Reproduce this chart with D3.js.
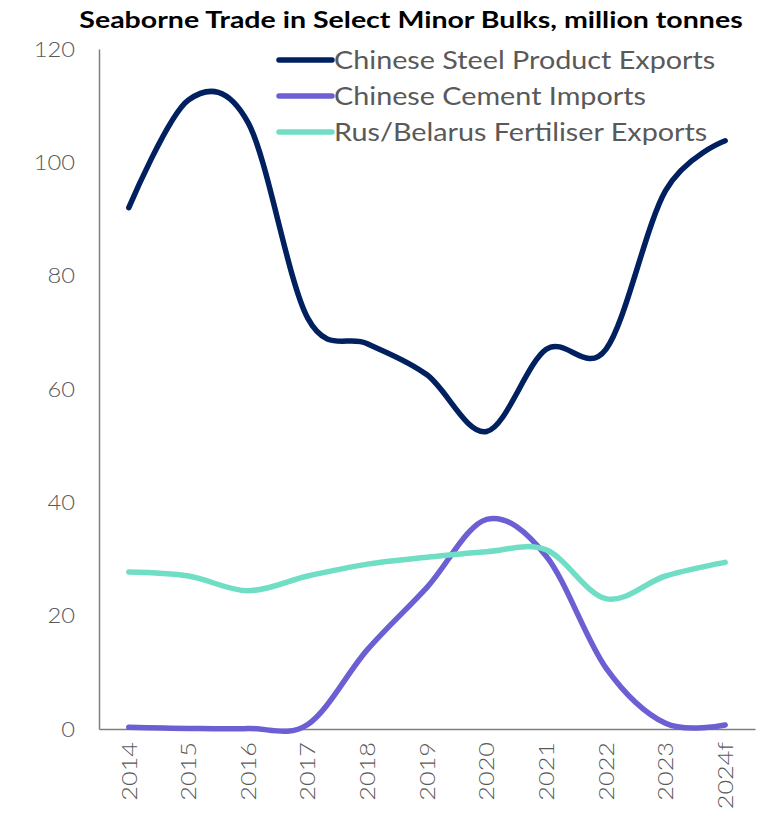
<!DOCTYPE html>
<html>
<head>
<meta charset="utf-8">
<script src="https://cdn.jsdelivr.net/npm/d3@7"></script>
<style>
  html, body { margin: 0; padding: 0; background: #fff; }
  svg { display: block; }
</style>
</head>
<body>
<div id="chart"></div>
<script>
// Years on the category axis
const years = ["2014", "2015", "2016", "2017", "2018", "2019", "2020", "2021", "2022", "2023", "2024f"];

// Series values, million tonnes
const steelExports = [92, 111, 107, 72.5, 68, 62.5, 52.5, 67, 67, 95, 103.8];
const cementImports = [0.3, 0.1, 0.1, 0.8, 14, 25, 37, 30.5, 10.8, 1, 0.7];
const fertiliserExports = [27.7, 27, 24.4, 27, 29.1, 30.3, 31.3, 31.6, 23, 27, 29.4];

const seriesNames = ["Chinese Steel Product Exports", "Chinese Cement Imports", "Rus/Belarus Fertiliser Exports"];
const seriesColors = ["#00205f", "#6b5fd3", "#6fdec4"];
const yTicks = [0, 20, 40, 60, 80, 100, 120];

const series = [steelExports, cementImports, fertiliserExports].map((values, i) => ({
  name: seriesNames[i], color: seriesColors[i], values
}));

const W = 772, H = 815;
const margin = { top: 49, right: 17, bottom: 86, left: 99 };

const svg = d3.select("#chart").append("svg")
  .attr("width", W).attr("height", H);

const x = d3.scaleBand().domain(years).range([margin.left, W - margin.right]);
const y = d3.scaleLinear().domain([0, 120]).range([H - margin.bottom, margin.top]);

const font = "'Lato', 'Open Sans', sans-serif";
const textColor = "#595959";

// Widen text horizontally to get a broad geometric look
function widen(sel, factor) {
  sel.each(function () {
    const w = this.getComputedTextLength();
    d3.select(this).attr("textLength", w * factor).attr("lengthAdjust", "spacingAndGlyphs");
  });
}

// Title
svg.append("text")
  .attr("x", 411).attr("y", 28)
  .attr("text-anchor", "middle")
  .attr("font-family", font)
  .attr("font-weight", 700)
  .attr("font-size", 23)
  .attr("fill", "#000")
  .text("Seaborne Trade in Select Minor Bulks, million tonnes")
  .call(widen, 1.24);

// Y axis (labels only, plus the vertical line)
const yAxis = d3.axisLeft(y).tickValues(yTicks).tickSize(0).tickPadding(24);
const gy = svg.append("g").attr("transform", `translate(${margin.left},0)`).call(yAxis);
gy.select(".domain").attr("stroke", "#7f7f7f").attr("stroke-width", 1.5);
gy.selectAll("text")
  .attr("font-family", font).attr("font-size", 22).attr("font-weight", 300)
  .attr("fill", textColor)
  .call(widen, 1.08);

// X axis with rotated year labels
const xAxis = d3.axisBottom(x).tickSize(0).tickPadding(0);
const gx = svg.append("g").attr("transform", `translate(0,${y(0)})`).call(xAxis);
gx.select(".domain").attr("stroke", "#7f7f7f").attr("stroke-width", 1.5);
gx.selectAll("text")
  .attr("font-family", font).attr("font-size", 22).attr("font-weight", 300)
  .attr("fill", textColor)
  .attr("transform", "rotate(-90)")
  .attr("text-anchor", "end")
  .attr("x", -13).attr("y", 0).attr("dy", "0.35em")
  .call(widen, 1.15);

// Smoothed series lines
const line = d3.line()
  .x((d, i) => x(years[i]) + x.bandwidth() / 2)
  .y(d => y(d))
  .curve(d3.curveCatmullRom.alpha(0));

svg.append("g").selectAll("path")
  .data(series)
  .join("path")
  .attr("d", d => line(d.values))
  .attr("fill", "none")
  .attr("stroke", d => d.color)
  .attr("stroke-width", 5.5)
  .attr("stroke-linecap", "round")
  .attr("stroke-linejoin", "round");

// Legend
const legend = svg.append("g").attr("transform", "translate(277,60)");
const rows = legend.selectAll("g").data(series).join("g")
  .attr("transform", (d, i) => `translate(0,${i * 36})`);
rows.append("line")
  .attr("x1", 2).attr("x2", 55).attr("y1", 0).attr("y2", 0)
  .attr("stroke", d => d.color).attr("stroke-width", 5.5)
  .attr("stroke-linecap", "round");
rows.append("text")
  .attr("x", 57).attr("y", 0).attr("dy", "0.36em")
  .attr("font-family", font).attr("font-size", 25).attr("font-weight", 400)
  .attr("fill", textColor)
  .text(d => d.name)
  .call(widen, 1.15);
</script>
</body>
</html>
